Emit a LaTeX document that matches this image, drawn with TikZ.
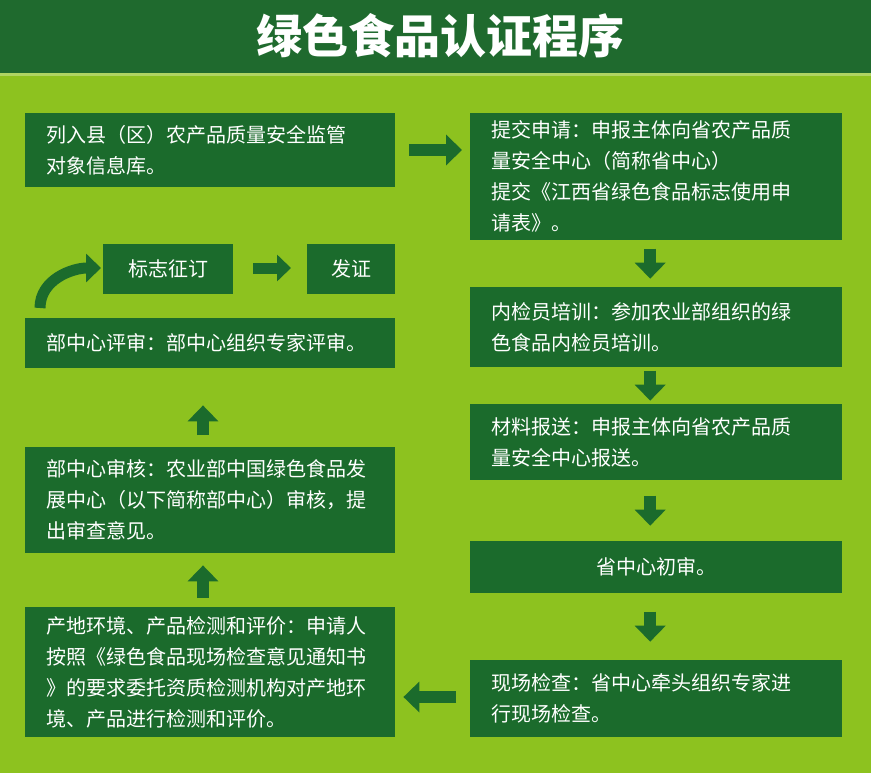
\documentclass[tikz,border=0pt]{standalone}
\usepackage{fontspec}
\setmainfont{Noto Sans CJK SC}
\usetikzlibrary{arrows.meta,calc}
\definecolor{lime}{HTML}{8DC21F}
\definecolor{dkg}{HTML}{1B6B2C}
\definecolor{titleg}{HTML}{1F6A2E}
\tikzset{
 box/.style={fill=dkg,text=white,font=\fontsize{20}{31}\selectfont,align=left,anchor=north west,inner xsep=21pt,inner ysep=0pt,minimum height=#1},
 blk/.style={draw=dkg,line width=12pt,-{Triangle[width=30pt,length=16pt]}},
}
\newcommand\vArr[2]{\draw[blk] ($(#1.south)!0.5!(#2.north)+(-6,-15)$) -- ($(#1.south)!0.5!(#2.north)+(-6,15)$);}
\begin{document}
\begin{tikzpicture}[x=1pt,y=-1pt]
\fill[lime] (0,0) rectangle (871,773);
\useasboundingbox (0,0) rectangle (871,773);
\fill[titleg] (0,0) rectangle (871,73);
\fill[lime!70!white] (0,73) rectangle (871,76);
\node (title) [text=white,font=\fontsize{46}{46}\selectfont\bfseries] at (440,36) {绿色食品认证程序};
% left column
\node (l1) [box=74pt,text width=328pt] at (25,113) {列入县（区）农产品质量安全监管\\对象信息库。};
\node (t1) [box=50pt,text width=88pt,align=center] at (103,244) {标志征订};
\node (t2) [box=50pt,text width=46pt,align=center] at (307,244) {发证};
\node (l2) [box=50pt,text width=328pt] at (25,318) {部中心评审：部中心组织专家评审。};
\node (l3) [box=106pt,text width=328pt] at (25,447) {部中心审核：农业部中国绿色食品发\\展中心（以下简称部中心）审核，提\\出审查意见。};
\node (l4) [box=130pt,text width=328pt] at (25,607) {产地环境、产品检测和评价：申请人\\按照《绿色食品现场检查意见通知书\\》的要求委托资质检测机构对产地环\\境、产品进行检测和评价。};
% right column
\node (r1) [box=127pt,text width=330pt] at (470,113) {提交申请：申报主体向省农产品质\\量安全中心（简称省中心）\\提交《江西省绿色食品标志使用申\\请表》。};
\node (r2) [box=80pt,text width=330pt] at (470,287) {内检员培训：参加农业部组织的绿\\色食品内检员培训。};
\node (r3) [box=76pt,text width=330pt] at (470,404) {材料报送：申报主体向省农产品质\\量安全中心报送。};
\node (r4) [box=52pt,text width=330pt,align=center] at (470,541) {省中心初审。};
\node (r5) [box=77pt,text width=330pt] at (470,660) {现场检查：省中心牵头组织专家进\\行现场检查。};
% arrows
\draw[blk,shorten <=14pt,shorten >=8pt] (l1.east|-0,150) -- (r1.west|-0,150);
\vArr{r1}{r2}\vArr{r2}{r3}\vArr{r3}{r4}\vArr{r4}{r5}
\draw[blk,shorten <=14pt,shorten >=8pt] (r5.west|-0,697) -- (l4.east|-0,697);
\draw[blk] ($(l4.north-|203,0)+(0,-9)$) -- ($(l3.south-|203,0)+(0,12)$);
\draw[blk] ($(l3.north-|203,0)+(0,-12)$) -- ($(l2.south-|203,0)+(0,37)$);
\draw[blk,line width=11pt,-{Triangle[width=26pt,length=14pt]},shorten <=20pt,shorten >=16pt] (t1.east|-0,268) -- (t2.west|-0,268);
\coordinate (c0) at (40,308);
\draw[blk,line width=11pt,-{Triangle[width=28pt,length=15pt]}] (c0) to[out=90,in=180] ([xshift=-2pt]t1.west|-0,268);
\end{tikzpicture}
\end{document}
